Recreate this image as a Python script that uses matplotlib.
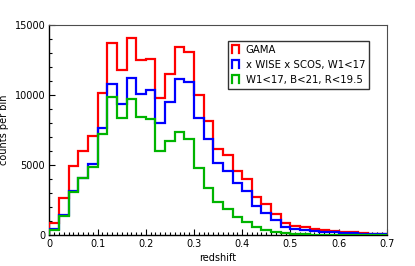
import matplotlib
matplotlib.use("Agg")
import matplotlib.pyplot as plt
import numpy as np
from matplotlib.lines import Line2D
from matplotlib.legend_handler import HandlerBase
from matplotlib.ticker import MultipleLocator

# redshift bins of width 0.02 from 0 to 0.7
edges = np.round(np.arange(0.0, 0.7001, 0.02), 2)

gama = [880, 2620, 4950, 6020, 7070, 10120, 13740, 11790, 14050, 12500,
        12600, 9810, 11500, 13430, 13050, 10000, 8150, 6140, 5710, 4600,
        3980, 2740, 2210, 1500, 870, 670, 540, 430, 360, 290,
        240, 190, 140, 100, 60]
wise_scos = [420, 1430, 3160, 4090, 5050, 7660, 10760, 9340, 11240, 10050,
             10330, 8020, 9520, 11120, 10950, 8350, 6830, 5120, 4600, 3690,
             3140, 2100, 1550, 1070, 600, 430, 360, 290, 240, 190,
             150, 120, 90, 60, 40]
cuts = [380, 1360, 3100, 4050, 4830, 7250, 9880, 8340, 9690, 8410,
        8260, 6020, 6710, 7380, 6830, 4760, 3380, 2380, 1840, 1310,
        950, 550, 360, 240, 130, 80, 50, 30, 20, 10,
        10, 5, 5, 0, 0]

labels = ["GAMA", "x WISE x SCOS, W1<17", "W1<17, B<21, R<19.5"]
colors = ["#ff0000", "#0000ff", "#00b400"]


class StepHandler(HandlerBase):
    # little open-bottomed box, like an old step-histogram legend key
    def create_artists(self, legend, orig_handle, xdescent, ydescent,
                       width, height, fontsize, trans):
        x0, x1 = -xdescent, -xdescent + width
        y0, y1 = -ydescent, -ydescent + height
        line = Line2D([x0, x0, x1, x1], [y0, y1, y1, y0],
                      color=orig_handle.get_color(), lw=1.6,
                      solid_joinstyle="miter", transform=trans)
        return [line]


plt.rcParams["font.family"] = "DejaVu Sans"
plt.rcParams["font.size"] = 7

fig = plt.figure(figsize=(4.15, 2.66), dpi=100)
ax = fig.add_axes([0.119, 0.1165, 0.813, 0.7895])

handles = []
for vals, col, lab in zip([gama, wise_scos, cuts], colors, labels):
    ax.stairs(vals, edges, baseline=0, color=col, lw=1.6, zorder=3)
    handles.append(Line2D([], [], color=col, label=lab))

ax.set_xlim(0, 0.7)
ax.set_ylim(0, 15000)
ax.xaxis.set_major_locator(MultipleLocator(0.1))
ax.xaxis.set_minor_locator(MultipleLocator(0.01))
ax.yaxis.set_major_locator(MultipleLocator(5000))
ax.yaxis.set_minor_locator(MultipleLocator(1000))
ax.xaxis.set_major_formatter(plt.FuncFormatter(lambda v, p: f"{v:g}"))
ax.tick_params(which="both", direction="in", top=False, right=False)
ax.tick_params(which="major", length=4, width=0.8, labelsize=7, pad=3)
ax.tick_params(which="minor", length=2, width=0.8)
for side in ["left", "bottom"]:
    ax.spines[side].set_linewidth(1.0)
for side in ["top", "right"]:
    ax.spines[side].set_color("0.3")
ax.set_xlabel("redshift", fontsize=7, labelpad=3)
ax.set_ylabel("counts per bin", fontsize=7, labelpad=4)

leg = ax.legend(handles=handles, handler_map={Line2D: StepHandler()},
                loc="upper left", bbox_to_anchor=(0.5305, 0.925),
                handlelength=0.67, handleheight=0.85, handletextpad=0.65,
                borderpad=0.4, labelspacing=0.5, fontsize=7.3,
                fancybox=False, framealpha=1, borderaxespad=0)
leg.get_frame().set_edgecolor("0.2")
leg.get_frame().set_linewidth(1.0)

fig.savefig("out.png", dpi=100, facecolor="white")
